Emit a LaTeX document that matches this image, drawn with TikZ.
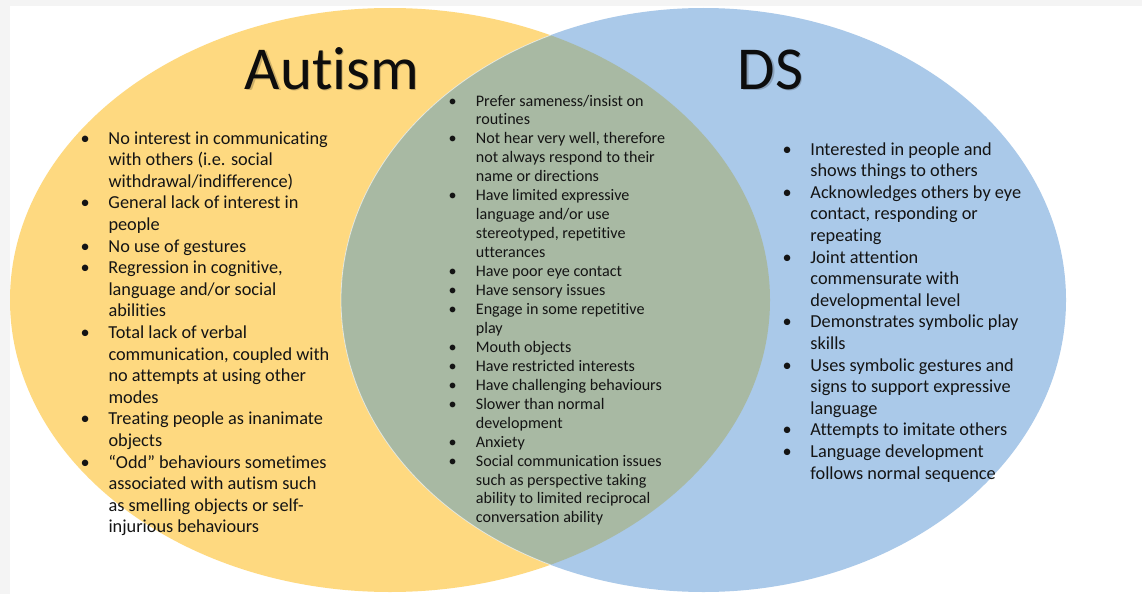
\documentclass[tikz,border=0pt]{standalone}
\usepackage{fontspec}
\setmainfont{Carlito}[Ligatures={NoCommon}]
\definecolor{pagegray}{RGB}{244,244,244}
\definecolor{autismfill}{RGB}{254,217,128}
\definecolor{dsfill}{RGB}{170,201,233}
\definecolor{overlapfill}{RGB}{168,185,163}
% bullet hung into the left margin of a line
\newcommand{\bu}{\leavevmode\llap{\makebox[0pt]{\textbullet}\hspace{23.3pt}}}
% a block of lines whose baseline is the baseline of its first line
\newcommand{\blist}[3]{\vtop{\hsize=320pt\fontsize{#1}{#2}\selectfont\raggedright\parindent=0pt\leavevmode#3\par}}
\tikzset{
  listtext/.style={anchor=base west, inner sep=0pt, text=black!92},
  titletext/.style={anchor=base west, inner sep=0pt, font=\fontsize{61}{70}\selectfont, text=black!95},
  titleshadow/.style={titletext, text=black, opacity=0.2},
}
\begin{document}
\begin{tikzpicture}[x=1pt,y=-1pt]
  \useasboundingbox (0,0) rectangle (1142,594);
  % page frame
  \fill[pagegray] (0,0) rectangle (1142,594);
  \fill[white] (9.5,6) rectangle (1142,594);
  % the two sets
  \fill[autismfill] (390,300) ellipse [x radius=380pt, y radius=292pt];
  \fill[dsfill] (703.5,300) ellipse [x radius=362.5pt, y radius=292pt];
  \begin{scope}
    \clip (390,300) ellipse [x radius=380pt, y radius=292pt];
    \fill[overlapfill] (703.5,300) ellipse [x radius=362.5pt, y radius=292pt];
    \draw[white, opacity=0.6, line width=0.8pt] (703.5,300) ellipse [x radius=362.5pt, y radius=292pt];
  \end{scope}
  % titles
  \node[titleshadow] (autismshadow) at (246,90.5) {Autism};
  \node[titletext] (autismtitle) at (244.5,89) {Autism};
  \node[titleshadow] (dsshadow) at (739,90.5) {DS};
  \node[titletext] (dstitle) at (737.5,89) {DS};
  % Autism only
  \node[listtext] (autismlist) at (108.3,144) {\blist{18.3}{21.6}{%
\bu No interest in communicating\\
with others (i.e. social\\
withdrawal/indifference)\\
\bu General lack of interest in\\
people\\
\bu No use of gestures\\
\bu Regression in cognitive,\\
language and/or social\\
abilities\\
\bu Total lack of verbal\\
communication, coupled with\\
no attempts at using other\\
modes\\
\bu Treating people as inanimate\\
objects\\
\bu “Odd” behaviours sometimes\\
associated with autism such\\
as smelling objects or self-\\
injurious behaviours}};
  % shared features
  \node[listtext] (bothlist) at (475.7,106) {\blist{16.1}{18.95}{%
\bu Prefer sameness/insist on\\
routines\\
\bu Not hear very well, therefore\\
not always respond to their\\
name or directions\\
\bu Have limited expressive\\
language and/or use\\
stereotyped, repetitive\\
utterances\\
\bu Have poor eye contact\\
\bu Have sensory issues\\
\bu Engage in some repetitive\\
play\\
\bu Mouth objects\\
\bu Have restricted interests\\
\bu Have challenging behaviours\\
\bu Slower than normal\\
development\\
\bu Anxiety\\
\bu Social communication issues\\
such as perspective taking\\
ability to limited reciprocal\\
conversation ability}};
  % DS only
  \node[listtext] (dslist) at (810.2,155) {\blist{18.3}{21.6}{%
\bu Interested in people and\\
shows things to others\\
\bu Acknowledges others by eye\\
contact, responding or\\
repeating\\
\bu Joint attention\\
commensurate with\\
developmental level\\
\bu Demonstrates symbolic play\\
skills\\
\bu Uses symbolic gestures and\\
signs to support expressive\\
language\\
\bu Attempts to imitate others\\
\bu Language development\\
follows normal sequence}};
\end{tikzpicture}
\end{document}
